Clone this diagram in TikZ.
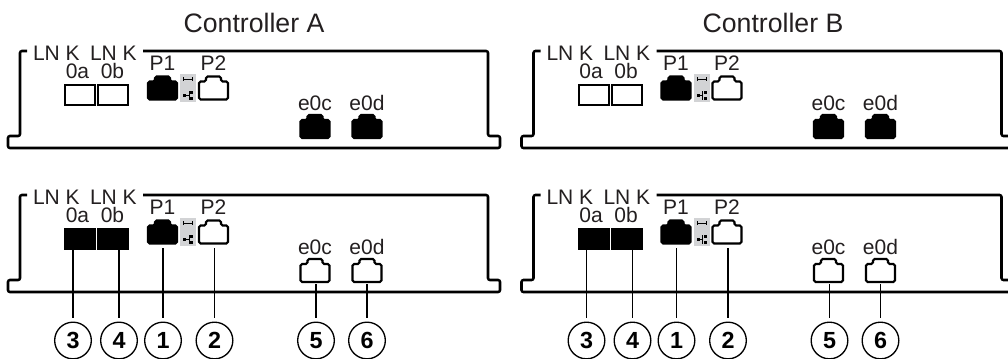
\documentclass[tikz,border=0pt]{standalone}
\usepackage{fontspec}
\setmainfont{Liberation Sans}
\usetikzlibrary{positioning,calc}
\definecolor{inkblack}{HTML}{231F20}
\definecolor{icongray}{HTML}{D2D3D5}
\tikzstyle{title} = [inner sep=0pt, text=inkblack, font=\fontsize{20}{20}\selectfont]
\tikzstyle{tag} = [inner sep=0pt, outer sep=0pt, text=inkblack, font=\fontsize{15.75}{16}\selectfont]
\tikzstyle{chassis} = [line width=1.9pt, rounded corners=1.5pt, black]
\tikzstyle{sfpempty} = [rectangle, draw=black, line width=1.5pt, fill=white, outer sep=0pt, minimum width=22.5pt, minimum height=15.5pt]
\tikzstyle{sfpfull} = [sfpempty, fill=black]
\tikzstyle{rjbody} = [rectangle, inner sep=0pt, outer sep=0pt, minimum width=21.75pt, minimum height=17.25pt]
\tikzstyle{rjempty} = [line width=1.6pt, draw=black, fill=white, rounded corners=1.2pt]
\tikzstyle{rjfull} = [rjempty, fill=black]
\tikzstyle{iconbox} = [rectangle, fill=icongray, inner sep=0pt, outer sep=0pt, minimum width=12pt, minimum height=21pt]
\tikzstyle{iconline} = [line width=0.55pt, black]
\tikzstyle{callout} = [draw=black, circle, line width=1pt, inner sep=0pt, minimum size=27.5pt, text=black, font=\fontsize{17.5}{18}\selectfont\bfseries]
\tikzstyle{leader} = [line width=1.4pt, black, shorten <=3pt]

\newcommand{\rjoutline}[2]{
    \draw[#2] (#1.south west) -- ++(0,-18) -- ++(7,0) -- ++(0,-5) -- ++(15,0) -- ++(0,5) -- ++(7,0) -- ++(0,18) -- cycle;
}
\newcommand{\portpanel}[3]{
    \draw[chassis] (27,51) -- (20,51) -- (20,136) -- (8,136) -- (8,148) -- (500,148) -- (500,136) -- (488,136) -- (488,51) -- (143,51);
    \node[tag, anchor=base west] (#1lnka) at (33,60) {LN K};
    \node[tag, anchor=base west] (#1lnkb) at (90,60) {LN K};
    \node[#2] (#1sfpa) at (80,95) {};
    \node[#2, right=2.5pt of #1sfpa] (#1sfpb) {};
    \node[tag, anchor=base] at (77.5,78) (#1taga) {0a};
    \node[tag, anchor=base] at (112.5,78) (#1tagb) {0b};
    \node[rjbody] (#1pa) at (162.5,88) {};
    \node[iconbox, right=2.25pt of #1pa] (#1icon) {};
    \node[rjbody, right=2.25pt of #1icon] (#1pb) {};
    \rjoutline{#1pa}{rjfull}
    \rjoutline{#1pb}{rjempty}
    \node[tag, above=4.5pt of #1pa] (#1tagc) {P1};
    \node[tag, above=4.5pt of #1pb] (#1tagd) {P2};
    \draw[iconline] ([shift={(-4.5,-9)}]#1icon.center) -- ++(9,0);
    \draw[iconline] ([shift={(-4.5,-11)}]#1icon.center) -- ++(0,4);
    \draw[iconline] ([shift={(4.5,-11)}]#1icon.center) -- ++(0,4);
    \fill[black] ([shift={(-5,6)}]#1icon.center) rectangle ++(3,3);
    \fill[black] ([shift={(2,3)}]#1icon.center) rectangle ++(3,3);
    \fill[black] ([shift={(2,9)}]#1icon.center) rectangle ++(3,3);
    \draw[iconline] ([shift={(-2,7.5)}]#1icon.center) -- ++(3,0);
    \draw[iconline] ([shift={(1,3)}]#1icon.center) -- ++(0,9);
    \node[rjbody] (#1ec) at (315,126.5) {};
    \node[rjbody, right=17.25pt of #1ec] (#1ed) {};
    \rjoutline{#1ec}{#3}
    \rjoutline{#1ed}{#3}
    \node[tag, above=3.5pt of #1ec] (#1tage) {e0c};
    \node[tag, above=3.5pt of #1ed] (#1tagf) {e0d};
}
\newcommand{\callouts}[1]{
    \node[callout] (#1nc) at (73,196.5) {3};
    \node[callout] (#1nd) at (119,196.5) {4};
    \node[callout] (#1na) at (163,196.5) {1};
    \node[callout] (#1nb) at (214.5,196.5) {2};
    \node[callout] (#1ne) at (316,196.5) {5};
    \node[callout] (#1nf) at (367,196.5) {6};
    \draw[leader] (#1nc.north) -- (#1nc.north |- #1sfpa.south);
    \draw[leader] (#1nd.north) -- (#1nd.north |- #1sfpb.south);
    \draw[leader, shorten >=3.5pt] (#1na.north) -- (#1na.north |- #1pa.south);
    \draw[leader, shorten >=3.5pt] (#1nb.north) -- (#1nb.north |- #1pb.south);
    \draw[leader, shorten >=1.5pt] (#1ne.north) -- (#1ne.north |- #1ec.south);
    \draw[leader, shorten >=1.5pt] (#1nf.north) -- (#1nf.north |- #1ed.south);
}

\begin{document}
\begin{tikzpicture}[x=0.75pt, y=-0.75pt]
    \clip (0,0) rectangle (1008,358);
    \node[title] (ctrla) at (254,23) {Controller A};
    \node[title] (ctrlb) at (773,23) {Controller B};

    \portpanel{at}{sfpempty}{rjfull}
    \begin{scope}[shift={(0,144)}]
        \portpanel{ab}{sfpfull}{rjempty}
        \callouts{ab}
    \end{scope}
    \begin{scope}[shift={(513.5,0)}]
        \portpanel{bt}{sfpempty}{rjfull}
    \end{scope}
    \begin{scope}[shift={(513.5,144)}]
        \portpanel{bb}{sfpfull}{rjempty}
        \callouts{bb}
    \end{scope}
\end{tikzpicture}
\end{document}
